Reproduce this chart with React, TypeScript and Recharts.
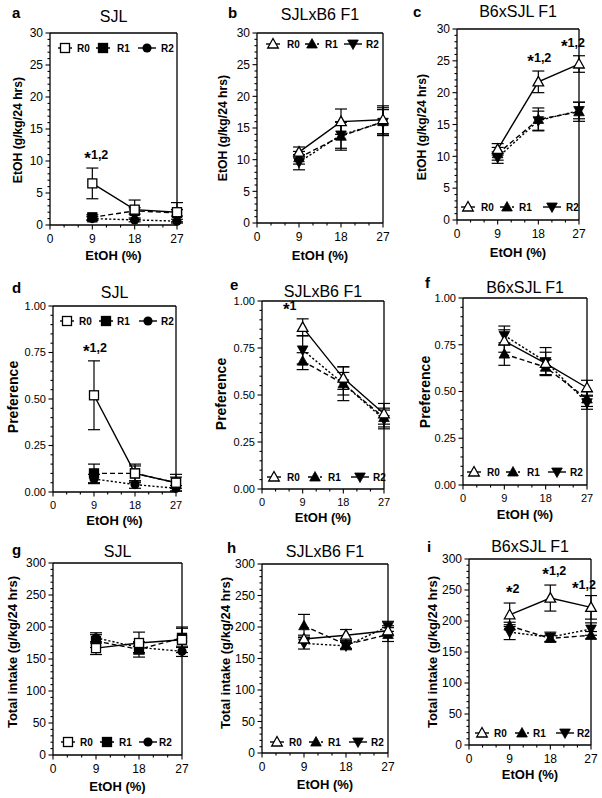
import React from 'react';
import { LineChart, Line, XAxis, YAxis, ErrorBar, ReferenceLine, ReferenceDot } from 'recharts';

const FONT = '"Liberation Sans", Arial, Helvetica, sans-serif';

// ---------- data ----------
const ETOH_CONC = [9, 18, 27];
const X_MAJOR_TICKS = [0, 9, 18, 27];
const SERIES_NAMES = ['R0', 'R1', 'R2'];

const ETOH_TICKS = [0, 5, 10, 15, 20, 25, 30];
const PREF_TICKS = [0, 0.25, 0.5, 0.75, 1.0];
const TOTAL_TICKS = [0, 50, 100, 150, 200, 250, 300];

// a: SJL EtOH intake
const sjlEtohR0 = [6.5, 2.4, 2.0];
const sjlEtohR0Err = [2.4, 1.5, 1.5];
const sjlEtohR1 = [1.2, 2.2, 1.9];
const sjlEtohR1Err = [0.4, 0.5, 0.5];
const sjlEtohR2 = [1.0, 0.8, 0.6];
const sjlEtohR2Err = [0.3, 0.3, 0.3];

// b: SJLxB6 F1 EtOH intake
const sjlB6EtohR0 = [11.2, 16.0, 16.3];
const sjlB6EtohR0Err = [0.8, 2.0, 2.2];
const sjlB6EtohR1 = [10.3, 13.7, 16.0];
const sjlB6EtohR1Err = [1.0, 2.2, 2.2];
const sjlB6EtohR2 = [9.6, 13.9, 15.9];
const sjlB6EtohR2Err = [1.2, 2.1, 2.0];

// c: B6xSJL F1 EtOH intake
const b6SjlEtohR0 = [11.1, 21.7, 24.5];
const b6SjlEtohR0Err = [0.9, 1.7, 1.3];
const b6SjlEtohR1 = [10.4, 15.8, 17.0];
const b6SjlEtohR1Err = [1.0, 1.8, 1.5];
const b6SjlEtohR2 = [9.8, 15.6, 17.2];
const b6SjlEtohR2Err = [0.9, 1.5, 1.3];

// d: SJL preference
const sjlPrefR0 = [0.52, 0.1, 0.05];
const sjlPrefR0Err = [0.185, 0.05, 0.045];
const sjlPrefR1 = [0.1, 0.1, 0.05];
const sjlPrefR1Err = [0.05, 0.04, 0.03];
const sjlPrefR2 = [0.07, 0.04, 0.02];
const sjlPrefR2Err = [0.025, 0.02, 0.015];

// e: SJLxB6 F1 preference
const sjlB6PrefR0 = [0.86, 0.59, 0.4];
const sjlB6PrefR0Err = [0.045, 0.06, 0.055];
const sjlB6PrefR1 = [0.68, 0.56, 0.38];
const sjlB6PrefR1Err = [0.045, 0.06, 0.05];
const sjlB6PrefR2 = [0.74, 0.56, 0.37];
const sjlB6PrefR2Err = [0.075, 0.09, 0.05];

// f: B6xSJL F1 preference
const b6SjlPrefR0 = [0.77, 0.65, 0.52];
const b6SjlPrefR0Err = [0.06, 0.06, 0.04];
const b6SjlPrefR1 = [0.7, 0.63, 0.46];
const b6SjlPrefR1Err = [0.06, 0.04, 0.04];
const b6SjlPrefR2 = [0.8, 0.66, 0.44];
const b6SjlPrefR2Err = [0.05, 0.075, 0.035];

// g: SJL total intake
const sjlTotalR0 = [167, 175, 180];
const sjlTotalR0Err = [10, 17, 20];
const sjlTotalR1 = [178, 165, 183];
const sjlTotalR1Err = [10, 12, 15];
const sjlTotalR2 = [183, 168, 162];
const sjlTotalR2Err = [8, 8, 8];

// h: SJLxB6 F1 total intake
const sjlB6TotalR0 = [181, 187, 194];
const sjlB6TotalR0Err = [6, 9, 8];
const sjlB6TotalR1 = [202, 172, 188];
const sjlB6TotalR1Err = [18, 6, 11];
const sjlB6TotalR2 = [174, 170, 201];
const sjlB6TotalR2Err = [9, 6, 8];

// i: B6xSJL F1 total intake
const b6SjlTotalR0 = [210, 237, 222];
const b6SjlTotalR0Err = [19, 21, 19];
const b6SjlTotalR1 = [192, 172, 177];
const b6SjlTotalR1Err = [6, 5, 6];
const b6SjlTotalR2 = [182, 174, 187];
const b6SjlTotalR2Err = [12, 8, 10];

// ---------- helpers ----------
const range = (max: number, step: number) => {
  const out: number[] = [];
  const n = Math.round(max / step);
  for (let i = 0; i <= n; i++) out.push(Math.round(i * step * 10000) / 10000);
  return out;
};
const X_ALL_TICKS = range(27, 3);

type Shape = 'sqOpen' | 'sqFill' | 'circle' | 'triOpen' | 'triFill' | 'triDown';
const SJL_SHAPES: Shape[] = ['sqOpen', 'sqFill', 'circle'];
const F1_SHAPES: Shape[] = ['triOpen', 'triFill', 'triDown'];
const DASHES = [undefined, '5 3', '2.2 2'];
const SEG_HALF = [7, 7, 9];

function Marker({ shape, cx, cy }: { shape: Shape; cx: number; cy: number }) {
  const sw = 1.3;
  switch (shape) {
    case 'sqOpen':
      return <rect x={cx - 4.5} y={cy - 4.5} width={9} height={9} fill="#fff" stroke="#000" strokeWidth={sw} />;
    case 'sqFill':
      return <rect x={cx - 4.5} y={cy - 4.5} width={9} height={9} fill="#000" stroke="#000" strokeWidth={sw} />;
    case 'circle':
      return <circle cx={cx} cy={cy} r={4.6} fill="#000" />;
    case 'triOpen':
      return (
        <polygon
          points={`${cx},${cy - 5.5} ${cx + 5.3},${cy + 4} ${cx - 5.3},${cy + 4}`}
          fill="#fff"
          stroke="#000"
          strokeWidth={sw}
        />
      );
    case 'triFill':
      return (
        <polygon points={`${cx},${cy - 5.5} ${cx + 5.3},${cy + 4} ${cx - 5.3},${cy + 4}`} fill="#000" stroke="#000" strokeWidth={0.8} />
      );
    case 'triDown':
      return (
        <polygon points={`${cx},${cy + 5.5} ${cx + 5.3},${cy - 4} ${cx - 5.3},${cy - 4}`} fill="#000" stroke="#000" strokeWidth={0.8} />
      );
  }
  return null;
}

type Annot = { x: number; y: number; text: string; dx: number };

type PanelCfg = {
  letter: string;
  title: string;
  left: number;
  top: number;
  right: number;
  bottom: number;
  yMax: number;
  yMajors: number[];
  yMinorStep: number;
  yDecimals: number;
  tickFont: number;
  yLabel: string;
  yLabelSize: number;
  yLabelX: number;
  yLabelY: number;
  xLabelY: number;
  titleY: number;
  letterX: number;
  letterY: number;
  legendY: number;
  legend: number[];
  shapes: Shape[];
  values: number[][];
  errors: number[][];
  annots: Annot[];
};

const panels: PanelCfg[] = [
  {
    letter: 'a', title: 'SJL', left: 50, top: 33, right: 177, bottom: 225,
    yMax: 30, yMajors: ETOH_TICKS, yMinorStep: 1, yDecimals: 0, tickFont: 12,
    yLabel: 'EtOH (g/kg/24 hrs)', yLabelSize: 12.2, yLabelX: 18, yLabelY: 130, xLabelY: 260,
    titleY: 22, letterX: 12, letterY: 18, legendY: 48, legend: [15, 27, 53, 67, 97, 111],
    shapes: SJL_SHAPES,
    values: [sjlEtohR0, sjlEtohR1, sjlEtohR2], errors: [sjlEtohR0Err, sjlEtohR1Err, sjlEtohR2Err],
    annots: [{ x: 9, y: 10.3, text: '1,2', dx: 4 }],
  },
  {
    letter: 'b', title: 'SJLxB6 F1', left: 257, top: 33, right: 383, bottom: 223,
    yMax: 30, yMajors: ETOH_TICKS, yMinorStep: 1, yDecimals: 0, tickFont: 12,
    yLabel: 'EtOH (g/kg/24 hrs)', yLabelSize: 12.2, yLabelX: 223, yLabelY: 128, xLabelY: 260,
    titleY: 20, letterX: 228, letterY: 18, legendY: 44, legend: [16, 30, 55, 68, 96, 109],
    shapes: F1_SHAPES,
    values: [sjlB6EtohR0, sjlB6EtohR1, sjlB6EtohR2], errors: [sjlB6EtohR0Err, sjlB6EtohR1Err, sjlB6EtohR2Err],
    annots: [],
  },
  {
    letter: 'c', title: 'B6xSJL F1', left: 457, top: 29, right: 579, bottom: 220,
    yMax: 30, yMajors: ETOH_TICKS, yMinorStep: 1, yDecimals: 0, tickFont: 12,
    yLabel: 'EtOH (g/kg/24 hrs)', yLabelSize: 12.2, yLabelX: 422, yLabelY: 127, xLabelY: 257,
    titleY: 17, letterX: 413, letterY: 17, legendY: 207, legend: [11, 24, 50, 62, 95, 109],
    shapes: F1_SHAPES,
    values: [b6SjlEtohR0, b6SjlEtohR1, b6SjlEtohR2], errors: [b6SjlEtohR0Err, b6SjlEtohR1Err, b6SjlEtohR2Err],
    annots: [
      { x: 18, y: 24.8, text: '1,2', dx: 1 },
      { x: 27, y: 27.2, text: '1,2', dx: -6 },
    ],
  },
  {
    letter: 'd', title: 'SJL', left: 53, top: 306, right: 176, bottom: 492,
    yMax: 1, yMajors: PREF_TICKS, yMinorStep: 0.05, yDecimals: 2, tickFont: 11,
    yLabel: 'Preference', yLabelSize: 14, yLabelX: 13, yLabelY: 397, xLabelY: 525,
    titleY: 298, letterX: 12, letterY: 293, legendY: 321, legend: [14, 26, 53, 64, 95, 108],
    shapes: SJL_SHAPES,
    values: [sjlPrefR0, sjlPrefR1, sjlPrefR2], errors: [sjlPrefR0Err, sjlPrefR1Err, sjlPrefR2Err],
    annots: [{ x: 9, y: 0.755, text: '1,2', dx: 1 }],
  },
  {
    letter: 'e', title: 'SJLxB6 F1', left: 262, top: 301, right: 384, bottom: 489,
    yMax: 1, yMajors: PREF_TICKS, yMinorStep: 0.05, yDecimals: 2, tickFont: 11,
    yLabel: 'Preference', yLabelSize: 14, yLabelX: 221, yLabelY: 394, xLabelY: 522,
    titleY: 297, letterX: 230, letterY: 290, legendY: 477, legend: [12, 25, 53, 66, 98, 111],
    shapes: F1_SHAPES,
    values: [sjlB6PrefR0, sjlB6PrefR1, sjlB6PrefR2], errors: [sjlB6PrefR0Err, sjlB6PrefR1Err, sjlB6PrefR2Err],
    annots: [{ x: 9, y: 0.95, text: '1', dx: -13 }],
  },
  {
    letter: 'f', title: 'B6xSJL F1', left: 463, top: 298, right: 587, bottom: 485,
    yMax: 1, yMajors: PREF_TICKS, yMinorStep: 0.05, yDecimals: 2, tickFont: 11,
    yLabel: 'Preference', yLabelSize: 14, yLabelX: 425, yLabelY: 392, xLabelY: 519,
    titleY: 293, letterX: 425, letterY: 288, legendY: 472, legend: [11, 24, 50, 64, 94, 107],
    shapes: F1_SHAPES,
    values: [b6SjlPrefR0, b6SjlPrefR1, b6SjlPrefR2], errors: [b6SjlPrefR0Err, b6SjlPrefR1Err, b6SjlPrefR2Err],
    annots: [],
  },
  {
    letter: 'g', title: 'SJL', left: 53, top: 563, right: 182, bottom: 755,
    yMax: 300, yMajors: TOTAL_TICKS, yMinorStep: 10, yDecimals: 0, tickFont: 12,
    yLabel: 'Total intake (g/kg/24 hrs)', yLabelSize: 13, yLabelX: 12, yLabelY: 652, xLabelY: 791,
    titleY: 557, letterX: 12, letterY: 555, legendY: 742, legend: [15, 27, 54, 66, 95, 106],
    shapes: SJL_SHAPES,
    values: [sjlTotalR0, sjlTotalR1, sjlTotalR2], errors: [sjlTotalR0Err, sjlTotalR1Err, sjlTotalR2Err],
    annots: [],
  },
  {
    letter: 'h', title: 'SJLxB6 F1', left: 262, top: 564, right: 388, bottom: 753,
    yMax: 300, yMajors: TOTAL_TICKS, yMinorStep: 10, yDecimals: 0, tickFont: 12,
    yLabel: 'Total intake (g/kg/24 hrs)', yLabelSize: 13, yLabelX: 225, yLabelY: 653, xLabelY: 789,
    titleY: 557, letterX: 227, letterY: 553, legendY: 742, legend: [15, 27, 54, 66, 96, 109],
    shapes: F1_SHAPES,
    values: [sjlB6TotalR0, sjlB6TotalR1, sjlB6TotalR2], errors: [sjlB6TotalR0Err, sjlB6TotalR1Err, sjlB6TotalR2Err],
    annots: [],
  },
  {
    letter: 'i', title: 'B6xSJL F1', left: 469, top: 559, right: 591, bottom: 745,
    yMax: 300, yMajors: TOTAL_TICKS, yMinorStep: 10, yDecimals: 0, tickFont: 12,
    yLabel: 'Total intake (g/kg/24 hrs)', yLabelSize: 13, yLabelX: 432, yLabelY: 652, xLabelY: 779,
    titleY: 552, letterX: 427, letterY: 552, legendY: 733, legend: [13, 25, 53, 64, 96, 108],
    shapes: F1_SHAPES,
    values: [b6SjlTotalR0, b6SjlTotalR1, b6SjlTotalR2], errors: [b6SjlTotalR0Err, b6SjlTotalR1Err, b6SjlTotalR2Err],
    annots: [
      { x: 9, y: 245, text: '2', dx: 3 },
      { x: 18, y: 274, text: '1,2', dx: 4 },
      { x: 27, y: 251, text: '1,2', dx: -7 },
    ],
  },
];

const LM = 60; // left space for y axis
const TM = 10;
const RM = 14;
const BM = 40;

const isMajor = (v: number, majors: number[]) => majors.some((m) => Math.abs(m - v) < 1e-6);

function Panel({ cfg }: { cfg: PanelCfg }) {
  const data = ETOH_CONC.map((x, i) => ({
    x,
    r0: cfg.values[0][i],
    r1: cfg.values[1][i],
    r2: cfg.values[2][i],
    e0: cfg.errors[0][i],
    e1: cfg.errors[1][i],
    e2: cfg.errors[2][i],
  }));
  const W = cfg.right - cfg.left + LM + RM;
  const H = cfg.bottom - cfg.top + TM + BM;
  const yAll = range(cfg.yMax, cfg.yMinorStep);
  const fs = cfg.tickFont;

  const yTick = (p: any) => {
    const v = p.payload.value;
    const major = isMajor(v, cfg.yMajors);
    return (
      <g>
        <line x1={p.x - (major ? 4.5 : 2.5)} x2={p.x} y1={p.y} y2={p.y} stroke="#000" strokeWidth={1.1} />
        {major && (
          <text x={p.x - 7} y={p.y} dy="0.36em" textAnchor="end" fontSize={fs} fontFamily={FONT} fill="#000">
            {v.toFixed(cfg.yDecimals)}
          </text>
        )}
      </g>
    );
  };
  const xTick = (p: any) => {
    const v = p.payload.value;
    const major = isMajor(v, X_MAJOR_TICKS);
    return (
      <g>
        <line x1={p.x} x2={p.x} y1={p.y} y2={p.y + (major ? 4.5 : 2.5)} stroke="#000" strokeWidth={1.1} />
        {major && (
          <text x={p.x} y={p.y + 9 + fs * 0.72} textAnchor="middle" fontSize={fs} fontFamily={FONT} fill="#000">
            {v}
          </text>
        )}
      </g>
    );
  };

  const order = [1, 2, 0];
  return (
    <div style={{ position: 'absolute', left: cfg.left - LM, top: cfg.top - TM }}>
      <LineChart width={W} height={H} data={data} margin={{ top: TM, right: RM, bottom: 0, left: 0 }}>
        <XAxis
          dataKey="x"
          type="number"
          domain={[0, 27]}
          ticks={X_ALL_TICKS}
          interval={0}
          tickSize={0}
          tickMargin={0}
          tickLine={false}
          tick={xTick}
          axisLine={{ stroke: '#000', strokeWidth: 1.3 }}
          height={BM}
        />
        <YAxis
          type="number"
          domain={[0, cfg.yMax]}
          ticks={yAll}
          interval={0}
          tickSize={0}
          tickMargin={0}
          tickLine={false}
          tick={yTick}
          axisLine={{ stroke: '#000', strokeWidth: 1.3 }}
          width={LM}
        />
        <ReferenceLine y={cfg.yMax} stroke="#000" strokeWidth={1.3} />
        <ReferenceLine x={27} stroke="#000" strokeWidth={1.3} />
        {order.map((s) => (
          <Line
            key={s}
            dataKey={`r${s}`}
            stroke="#000"
            strokeWidth={1.4}
            strokeDasharray={DASHES[s]}
            isAnimationActive={false}
            activeDot={false}
            dot={(p: any) => <Marker key={`m${s}-${p.index}`} shape={cfg.shapes[s]} cx={p.cx} cy={p.cy} />}
          >
            <ErrorBar dataKey={`e${s}`} width={6} stroke="#000" strokeWidth={1.2} direction="y" isAnimationActive={false} />
          </Line>
        ))}
        {cfg.annots.map((a, i) => (
          <ReferenceDot
            key={`an${i}`}
            x={a.x}
            y={a.y}
            r={1}
            shape={(p: any) => (
              <text
                x={p.cx + a.dx}
                y={p.cy}
                dy="0.36em"
                textAnchor="middle"
                fontSize={12.5}
                fontWeight="bold"
                fontFamily={FONT}
                fill="#000"
              >
                <tspan fontSize={17} dy={5}>*</tspan>
                <tspan dy={-5}>{a.text}</tspan>
              </text>
            )}
          />
        ))}
      </LineChart>
    </div>
  );
}

function Overlay() {
  return (
    <svg
      width={602}
      height={798}
      style={{ position: 'absolute', left: 0, top: 0, pointerEvents: 'none' }}
      fontFamily={FONT}
    >
      {panels.map((cfg, pi) => {
        const cx = (cfg.left + cfg.right) / 2;
        return (
          <g key={pi}>
            <text x={cfg.letterX} y={cfg.letterY} fontSize={15} fontWeight="bold" fill="#000">
              {cfg.letter}
            </text>
            <text x={cx} y={cfg.titleY} fontSize={16} textAnchor="middle" fill="#000">
              {cfg.title}
            </text>
            <text
              x={cfg.yLabelX}
              y={cfg.yLabelY}
              fontSize={cfg.yLabelSize}
              fontWeight="bold"
              textAnchor="middle"
              dominantBaseline="central"
              transform={`rotate(-90 ${cfg.yLabelX} ${cfg.yLabelY})`}
              fill="#000"
            >
              {cfg.yLabel}
            </text>
            <text x={cx} y={cfg.xLabelY} fontSize={13} fontWeight="bold" textAnchor="middle" fill="#000">
              EtOH (%)
            </text>
            {SERIES_NAMES.map((name, s) => {
              const mx = cfg.left + cfg.legend[s * 2];
              const tx = cfg.left + cfg.legend[s * 2 + 1];
              const y = cfg.legendY;
              return (
                <g key={name}>
                  <line
                    x1={mx - SEG_HALF[s]}
                    x2={mx + SEG_HALF[s]}
                    y1={y}
                    y2={y}
                    stroke="#000"
                    strokeWidth={1.4}
                    strokeDasharray={s === 1 ? '4 2' : undefined}
                  />
                  <Marker shape={cfg.shapes[s]} cx={mx} cy={y} />
                  <text x={tx} y={y} dy="0.36em" fontSize={10} fontWeight="bold" fill="#000">
                    {name}
                  </text>
                </g>
              );
            })}
          </g>
        );
      })}
    </svg>
  );
}

export default function App() {
  return (
    <div style={{ position: 'absolute', left: 0, top: 0, width: 602, height: 798, background: '#fff' }}>
      {panels.map((cfg, i) => (
        <Panel key={i} cfg={cfg} />
      ))}
      <Overlay />
    </div>
  );
}
